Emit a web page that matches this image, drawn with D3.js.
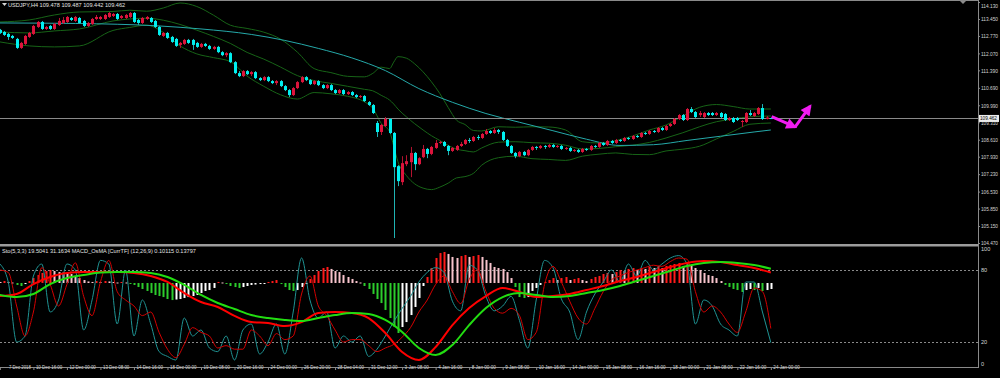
<!DOCTYPE html>
<html>
<head>
<meta charset="utf-8">
<script src="https://cdn.jsdelivr.net/npm/d3@7"></script>
<style>
  html, body { margin: 0; padding: 0; background: #000; overflow: hidden; }
  svg { display: block; }
  text { font-family: "Liberation Sans", Arial, sans-serif; }
</style>
</head>
<body>
<div id="chart"></div>
<script>
// ---- data (USDJPY H4) ----
const firstBar = 2;   // bar index of the first candle below
const opens = [
  113.01,112.93,112.85,112.77,112.65,112.29,112.45,112.73,112.85,113.13,
  113.33,113.05,113.17,113.05,113.21,113.29,113.33,113.49,113.37,113.49,
  113.37,113.17,113.25,113.45,113.45,113.45,113.53,113.57,113.65,113.49,
  113.49,113.53,113.69,113.41,113.29,113.45,113.49,113.37,113.13,112.77,
  112.89,112.73,112.65,112.41,112.45,112.61,112.61,112.49,112.33,112.45,
  112.37,112.25,112.33,112.12,112.00,112.08,111.72,111.28,111.16,111.36,
  111.24,111.32,111.08,111.00,111.12,110.96,110.88,110.96,110.76,110.60,
  110.40,110.68,110.92,111.12,111.00,110.84,110.96,110.80,110.68,110.80,
  110.60,110.48,110.60,110.44,110.52,110.40,110.32,110.36,110.12,110.00,
  109.28,108.92,109.16,109.44,108.88,107.55,106.91,107.63,107.71,108.08,
  107.63,107.91,108.24,108.04,108.28,108.48,108.52,108.36,108.16,108.20,
  108.36,108.44,108.60,108.56,108.72,108.68,108.84,108.96,108.88,109.00,
  108.92,108.60,108.36,108.08,107.95,108.12,107.99,108.20,108.32,108.28,
  108.36,108.32,108.40,108.32,108.36,108.24,108.28,108.16,108.20,108.12,
  108.24,108.20,108.36,108.32,108.48,108.40,108.56,108.48,108.60,108.56,
  108.68,108.64,108.76,108.72,108.88,108.84,108.96,108.92,109.08,109.00,
  109.16,109.24,109.44,109.60,109.40,109.84,109.72,109.60,109.52,109.68,
  109.68,109.60,109.68,109.64,109.40,109.48,109.48,109.32,109.32,109.68,
  109.56,109.64,109.88,109.44,109.478
];
const highs = [
  113.05,112.97,112.89,112.81,112.69,112.53,112.81,112.93,113.21,113.37,
  113.37,113.17,113.21,113.29,113.49,113.53,113.57,113.53,113.57,113.53,
  113.41,113.33,113.49,113.61,113.57,113.65,113.73,113.69,113.69,113.61,
  113.65,113.73,113.73,113.45,113.53,113.57,113.53,113.41,113.17,112.93,
  112.93,112.77,112.69,112.53,112.65,112.65,112.65,112.53,112.49,112.49,
  112.41,112.37,112.37,112.16,112.12,112.12,111.76,111.36,111.40,111.40,
  111.36,111.36,111.12,111.16,111.16,111.00,111.00,111.00,110.80,110.64,
  110.72,110.96,111.16,111.16,111.04,111.00,111.00,110.84,110.84,110.84,
  110.64,110.64,110.64,110.56,110.56,110.44,110.40,110.40,110.16,110.04,
  109.36,109.24,109.52,109.48,108.92,107.59,107.95,107.99,108.32,108.12,
  107.91,108.40,108.28,108.36,108.60,108.56,108.56,108.40,108.32,108.40,
  108.52,108.64,108.68,108.76,108.80,108.88,109.04,109.00,109.08,109.04,
  108.96,108.64,108.40,108.12,108.16,108.16,108.24,108.36,108.36,108.40,
  108.40,108.44,108.44,108.40,108.40,108.32,108.32,108.24,108.24,108.28,
  108.28,108.40,108.40,108.52,108.52,108.60,108.60,108.64,108.64,108.72,
  108.72,108.80,108.80,108.92,108.92,109.00,109.00,109.12,109.12,109.20,
  109.28,109.48,109.64,109.64,109.88,109.92,109.76,109.76,109.72,109.72,
  109.72,109.72,109.72,109.68,109.52,109.52,109.52,109.40,109.72,109.80,
  109.72,109.92,110.04,109.56,109.487
];
const lows = [
  112.85,112.77,112.61,112.65,112.25,112.25,112.41,112.69,112.81,113.09,
  113.01,113.01,113.01,113.01,113.17,113.25,113.29,113.37,113.33,113.25,
  113.13,113.13,113.21,113.41,113.41,113.41,113.49,113.53,113.41,113.45,
  113.45,113.49,113.29,113.21,113.25,113.41,113.29,113.09,112.77,112.73,
  112.65,112.49,112.33,112.29,112.41,112.45,112.21,112.29,112.29,112.33,
  112.21,112.21,112.08,111.96,111.92,111.68,111.24,111.12,111.12,111.20,
  111.16,111.04,110.96,110.96,110.92,110.84,110.80,110.72,110.56,110.32,
  110.36,110.64,110.88,110.96,110.80,110.80,110.76,110.64,110.64,110.56,
  110.44,110.44,110.40,110.40,110.36,110.28,110.28,110.12,109.96,109.64,
  108.72,108.80,109.12,108.84,104.67,106.75,106.79,107.55,107.11,107.39,
  107.59,107.87,107.87,107.99,108.24,108.44,108.32,107.99,108.12,108.16,
  108.32,108.40,108.48,108.52,108.60,108.64,108.80,108.84,108.84,108.84,
  108.56,108.32,108.04,107.87,107.91,107.95,107.95,108.16,108.20,108.24,
  108.24,108.28,108.28,108.28,108.20,108.20,108.12,108.12,108.08,108.08,
  108.16,108.16,108.28,108.28,108.36,108.36,108.44,108.44,108.52,108.52,
  108.60,108.60,108.68,108.68,108.80,108.80,108.88,108.88,108.96,108.96,
  109.12,109.20,109.40,109.36,109.36,109.68,109.48,109.52,109.48,109.56,
  109.56,109.56,109.48,109.36,109.36,109.28,109.36,109.12,109.28,109.56,
  109.52,109.60,109.40,109.42,109.442
];
const closes = [
  112.89,112.81,112.73,112.69,112.29,112.49,112.77,112.89,113.17,113.33,
  113.05,113.13,113.05,113.25,113.37,113.41,113.53,113.41,113.53,113.29,
  113.17,113.29,113.45,113.53,113.53,113.61,113.69,113.65,113.45,113.57,
  113.61,113.69,113.33,113.29,113.49,113.53,113.33,113.13,112.81,112.89,
  112.69,112.53,112.37,112.49,112.61,112.49,112.41,112.33,112.45,112.37,
  112.25,112.33,112.12,112.00,112.08,111.72,111.28,111.16,111.36,111.24,
  111.32,111.08,111.00,111.12,110.96,110.88,110.96,110.76,110.60,110.40,
  110.68,110.92,111.12,111.00,110.84,110.96,110.80,110.68,110.80,110.60,
  110.48,110.60,110.44,110.52,110.40,110.32,110.36,110.16,110.00,109.68,
  108.92,109.20,109.44,108.88,107.51,106.95,107.67,107.75,108.08,107.63,
  107.87,108.24,108.04,108.32,108.48,108.52,108.36,108.16,108.28,108.36,
  108.44,108.60,108.56,108.72,108.68,108.84,108.96,108.88,109.00,108.92,
  108.60,108.36,108.08,107.95,108.12,107.99,108.20,108.32,108.28,108.36,
  108.32,108.40,108.32,108.36,108.24,108.28,108.16,108.20,108.12,108.24,
  108.20,108.36,108.32,108.48,108.40,108.56,108.48,108.60,108.56,108.68,
  108.64,108.76,108.72,108.88,108.84,108.96,108.92,109.08,109.00,109.16,
  109.24,109.44,109.60,109.40,109.84,109.72,109.52,109.68,109.68,109.60,
  109.60,109.68,109.52,109.40,109.48,109.32,109.40,109.36,109.68,109.60,
  109.68,109.88,109.44,109.50,109.462
];

// Bollinger bands (20) and slow moving average, read at these bars
const bandIdx = [2,9,15,21,29,33,37,41,45,49,53,57,61,65,69,73,77,81,85,89,91,93,95,96,97,99,101,103,105,107,109,111,113,115,117,121,125,129,133,137,141,145,149,153,157,161,165,169,173,177,181,186];
const bandUpper = [113.33,113.41,113.61,113.73,113.75,113.80,113.76,113.89,114.09,113.95,113.60,113.20,113.07,112.92,112.64,112.12,111.46,111.30,111.15,111.13,111.27,111.52,111.46,111.72,111.94,111.88,111.65,111.33,110.93,110.46,109.90,109.39,109.22,108.98,108.96,109.13,109.11,109.13,109.12,109.00,108.53,108.48,108.57,108.76,109.00,109.20,109.56,109.91,110.02,109.94,109.84,109.84];
const bandMid = [112.93,112.89,112.97,113.05,113.37,113.45,113.48,113.40,113.23,113.00,112.75,112.47,112.11,111.84,111.52,111.18,110.98,110.87,110.75,110.63,110.57,110.39,110.20,110.04,109.84,109.53,109.25,109.00,108.77,108.58,108.38,108.23,108.17,108.12,108.28,108.51,108.53,108.49,108.47,108.39,108.24,108.26,108.33,108.39,108.50,108.68,108.89,109.13,109.33,109.44,109.53,109.56];
const bandLower = [112.53,112.37,112.33,112.37,112.99,113.11,113.20,112.91,112.37,112.05,111.90,111.74,111.16,110.75,110.41,110.24,110.50,110.45,110.35,110.13,109.87,109.27,108.94,108.35,107.73,107.18,106.84,106.67,106.61,106.71,106.87,107.08,107.13,107.26,107.59,107.89,107.95,107.85,107.82,107.78,107.95,108.03,108.08,108.02,108.01,108.16,108.23,108.35,108.64,108.94,109.23,109.28];
const maIdx = [2,20,40,50,62,70,78,86,94,102,110,118,126,134,142,150,158,166,174,182,186];
const maValues = [113.29,113.27,113.17,113.05,112.83,112.59,112.27,111.89,111.38,110.66,110.11,109.66,109.31,108.97,108.63,108.38,108.41,108.58,108.75,108.92,109.00];

// MACD_OsMA histogram, one value per bar from firstBar
const osma = [
  0.010,0.019,0.010,0.005,-0.019,-0.029,-0.010,0.019,0.048,0.077,
  0.097,0.116,0.126,0.116,0.106,0.102,0.097,0.087,0.068,0.048,
  0.029,0.015,0.010,0.019,0.010,0.019,0.015,0.010,0.005,0.010,
  0.005,-0.005,-0.019,-0.039,-0.058,-0.077,-0.097,-0.116,-0.126,-0.136,
  -0.155,-0.165,-0.160,-0.155,-0.145,-0.136,-0.126,-0.116,-0.097,-0.077,
  -0.068,-0.048,0.010,0.005,-0.010,-0.029,-0.039,-0.048,-0.039,-0.029,
  -0.019,-0.015,-0.010,-0.005,0.010,0.019,0.029,-0.010,-0.039,-0.068,
  -0.077,-0.068,-0.039,-0.005,0.039,0.077,0.116,0.145,0.155,0.136,
  0.116,0.106,0.077,0.058,0.039,0.019,0.005,-0.029,-0.058,-0.106,
  -0.155,-0.194,-0.261,-0.339,-0.426,-0.484,-0.426,-0.378,-0.310,-0.232,
  -0.145,-0.029,0.058,0.145,0.242,0.290,0.300,0.281,0.252,0.242,
  0.261,0.271,0.252,0.261,0.271,0.252,0.223,0.194,0.155,0.145,
  0.136,0.106,0.048,-0.039,-0.136,-0.145,-0.136,-0.077,-0.048,-0.019,
  0.010,0.029,0.048,0.029,0.048,0.058,0.029,0.039,0.048,0.029,
  0.019,0.039,0.058,0.068,0.087,0.097,0.087,0.106,0.126,0.116,
  0.136,0.145,0.126,0.145,0.136,0.155,0.145,0.165,0.145,0.165,
  0.174,0.184,0.194,0.165,0.194,0.174,0.145,0.126,0.097,0.077,
  0.068,0.048,0.019,-0.019,-0.039,-0.058,-0.068,-0.087,-0.068,-0.058,
  -0.068,-0.048,-0.077,-0.068,-0.058
];
// MACD main / signal lines, read every 4th bar from firstBar
const macdMain = [-0.126,-0.106,-0.010,0.058,0.097,0.106,0.106,0.106,0.097,0.068,0.010,-0.097,-0.184,-0.232,-0.319,-0.378,-0.387,-0.416,-0.378,-0.290,-0.281,-0.290,-0.339,-0.484,-0.668,-0.745,-0.620,-0.407,-0.242,-0.126,-0.048,-0.087,-0.136,-0.126,-0.106,-0.068,-0.029,0.019,0.058,0.106,0.155,0.194,0.213,0.203,0.174,0.145,0.101];
const macdSignal = [-0.116,-0.136,-0.106,-0.010,0.048,0.077,0.102,0.106,0.106,0.097,0.058,-0.019,-0.116,-0.194,-0.252,-0.310,-0.339,-0.358,-0.368,-0.339,-0.310,-0.290,-0.300,-0.358,-0.474,-0.629,-0.697,-0.600,-0.407,-0.242,-0.136,-0.097,-0.116,-0.136,-0.126,-0.097,-0.068,-0.029,0.019,0.068,0.116,0.165,0.194,0.203,0.194,0.174,0.138];
// Stochastic (5,3,3) %K and %D, read every 2nd bar from firstBar
const stochK = [85,70,20,25,75,85,45,55,85,80,30,55,88,85,35,80,25,55,35,12,8,5,40,25,30,15,12,25,5,30,35,10,20,35,10,45,90,55,40,45,15,25,20,25,8,14,25,37,48,58,70,78,82,78,54,46,84,80,58,46,50,58,38,15,55,88,82,56,45,22,45,60,70,80,70,85,75,88,80,85,90,92,85,35,55,50,35,30,25,70,70,45,19.5];
const stochD = [80,78,50,25,45,82,68,50,68,86,58,42,70,88,62,55,50,42,45,28,14,7,18,32,28,25,15,17,14,14,30,25,17,27,22,25,60,75,50,42,30,20,22,22,17,12,15,18,24,32,45,55,68,75,62,52,72,80,62,48,44,48,42,22,28,68,83,70,54,40,35,48,62,72,75,78,80,82,84,83,87,90,89,62,45,50,45,35,28,45,65,62,31.2];

const priceTicks = [114.130,113.450,112.770,112.070,111.390,110.690,109.990,109.310,108.610,107.930,107.230,106.530,105.850,105.150,104.470];
const stochTicks = [100, 80, 20, 0];
const stochLevels = [80, 20];
const timeTickIdx = [2,10,18,26,34,42,50,58,66,74,82,90,98,106,114,122,130,138,146,154,162,170,178,186];
const timeLabels = ["7 Dec 2018","10 Dec 16:00","12 Dec 00:00","13 Dec 08:00","14 Dec 16:00","18 Dec 00:00","19 Dec 08:00","20 Dec 16:00","24 Dec 00:00","26 Dec 20:00","28 Dec 04:00","31 Dec 12:00","3 Jan 08:00","4 Jan 16:00","8 Jan 00:00","9 Jan 08:00","10 Jan 16:00","14 Jan 00:00","15 Jan 08:00","16 Jan 16:00","18 Jan 00:00","21 Jan 08:00","22 Jan 16:00","24 Jan 00:00"];
const lastPrice = 109.462;
const arrowPts = [[186.2, 109.54], [191.8, 109.12], [195.4, 109.96]];

// ---- layout ----
const W = 1000, H = 378;
const plotRight = 978;
const mainBottom = 244, subTop = 247, subBottom = 367;

const svg = d3.select("#chart").append("svg")
    .attr("width", W)
    .attr("height", H);
svg.append("rect").attr("width", W).attr("height", H).attr("fill", "#000");

const defs = svg.append("defs");
defs.append("clipPath").attr("id", "clipMain")
  .append("rect").attr("x", 0).attr("y", 1).attr("width", plotRight).attr("height", mainBottom - 1);
defs.append("clipPath").attr("id", "clipSub")
  .append("rect").attr("x", 0).attr("y", subTop).attr("width", plotRight).attr("height", subBottom - subTop);
defs.append("marker").attr("id", "arrowHead")
    .attr("viewBox", "0 0 10 10").attr("refX", 8).attr("refY", 5)
    .attr("markerUnits", "userSpaceOnUse")
    .attr("markerWidth", 13).attr("markerHeight", 11)
    .attr("orient", "auto")
  .append("path").attr("d", "M0,0 L10,5 L0,10 Z").attr("fill", "#f01cf0");

// scales
const x = d3.scaleLinear().domain([0, 186]).range([-8.5, 770.84]);
const y = d3.scaleLinear().domain([104.47, 114.13]).range([243, 2]);
const stochY = d3.scaleLinear().domain([0, 100]).range([366, 246]);
const macdY = d3.scaleLinear().domain([-0.78, 0.3]).range([363.6, 252]);
const px = i => Math.round(x(i)) + 0.5;

const candles = opens.map((o, k) => ({ i: k + firstBar, o, h: highs[k], l: lows[k], c: closes[k] }));

// ---- main window ----
const main = svg.append("g").attr("clip-path", "url(#clipMain)");

const bandLine = vals => d3.line()
    .x((d, k) => x(bandIdx[k]))
    .y(d => y(d))
    .curve(d3.curveMonotoneX)(vals);

[bandUpper, bandMid, bandLower].forEach(vals => {
  main.append("path")
      .attr("d", bandLine(vals))
      .attr("fill", "none")
      .attr("stroke", "#176417")
      .attr("stroke-width", 1);
});

main.append("path")
    .attr("d", d3.line().x((d, k) => x(maIdx[k])).y(d => y(d)).curve(d3.curveMonotoneX)(maValues))
    .attr("fill", "none")
    .attr("stroke", "#25a9a9")
    .attr("stroke-width", 1);

// current price line
main.append("line")
    .attr("x1", 0).attr("x2", plotRight)
    .attr("y1", Math.round(y(lastPrice)) + 0.5).attr("y2", Math.round(y(lastPrice)) + 0.5)
    .attr("stroke", "#8a8a8a")
    .attr("stroke-width", 1);

// wicks
main.append("g").selectAll("line")
  .data(candles)
  .join("line")
    .attr("x1", d => px(d.i)).attr("x2", d => px(d.i))
    .attr("y1", d => y(d.h)).attr("y2", d => y(d.l))
    .attr("stroke", d => d.c >= d.o ? "#b3122f" : "#1fb3b3")
    .attr("stroke-width", 1);

// bodies
main.append("g").selectAll("rect")
  .data(candles)
  .join("rect")
    .attr("x", d => Math.round(x(d.i)) - 1)
    .attr("width", 3)
    .attr("y", d => y(Math.max(d.o, d.c)))
    .attr("height", d => Math.max(1, Math.abs(y(d.o) - y(d.c))))
    .attr("fill", d => d.c >= d.o ? "#dc143c" : "#00f0f0");

// magenta hand-drawn arrows
const arrowLine = d3.line().x(d => x(d[0])).y(d => y(d[1]));
main.append("path")
    .attr("d", arrowLine([arrowPts[0], arrowPts[1]]))
    .attr("stroke", "#f01cf0").attr("stroke-width", 3).attr("fill", "none")
    .attr("marker-end", "url(#arrowHead)");
main.append("path")
    .attr("d", arrowLine([arrowPts[1], arrowPts[2]]))
    .attr("stroke", "#f01cf0").attr("stroke-width", 3).attr("fill", "none")
    .attr("marker-end", "url(#arrowHead)");

// ---- sub window ----
const sub = svg.append("g").attr("clip-path", "url(#clipSub)");

sub.append("g").selectAll("line")
  .data(stochLevels)
  .join("line")
    .attr("x1", 0).attr("x2", plotRight)
    .attr("y1", d => Math.round(stochY(d)) + 0.5).attr("y2", d => Math.round(stochY(d)) + 0.5)
    .attr("stroke", "#8a8a8a")
    .attr("stroke-dasharray", "2,2");

const histColor = (v, k) => {
  const prev = k > 0 ? osma[k - 1] : v;
  if (v >= 0) return v > prev ? "#ff1a1a" : "#f7c3cc";
  return v < prev ? "#2ccc2c" : "#ffffff";
};
sub.append("g").selectAll("rect")
  .data(osma)
  .join("rect")
    .attr("x", (d, k) => Math.round(x(k + firstBar)) - 0.5)
    .attr("width", 2)
    .attr("y", d => Math.min(macdY(0), macdY(d)))
    .attr("height", d => Math.max(1, Math.abs(macdY(d) - macdY(0))))
    .attr("fill", histColor);

const stochLine = d3.line()
    .x((d, k) => x(firstBar + 2 * k))
    .y(d => stochY(d))
    .curve(d3.curveMonotoneX);
sub.append("path").attr("d", stochLine(stochK))
    .attr("fill", "none").attr("stroke", "#1f9393").attr("stroke-width", 1);
sub.append("path").attr("d", stochLine(stochD))
    .attr("fill", "none").attr("stroke", "#d40000").attr("stroke-width", 1);

const macdLine = d3.line()
    .x((d, k) => x(firstBar + 4 * k))
    .y(d => macdY(d))
    .curve(d3.curveMonotoneX);
sub.append("path").attr("d", macdLine(macdMain))
    .attr("fill", "none").attr("stroke", "#ff0000").attr("stroke-width", 2);
sub.append("path").attr("d", macdLine(macdSignal))
    .attr("fill", "none").attr("stroke", "#22dd11").attr("stroke-width", 2);

// ---- frame ----
const frame = svg.append("g");
frame.append("line").attr("x1", 0).attr("x2", plotRight).attr("y1", 0.5).attr("y2", 0.5)
    .attr("stroke", "#8a8a8a");
frame.append("rect").attr("x", 0).attr("y", mainBottom).attr("width", plotRight).attr("height", 2.5)
    .attr("fill", "#9c9c9c");
frame.append("line").attr("x1", 0).attr("x2", plotRight).attr("y1", subBottom + 0.5).attr("y2", subBottom + 0.5)
    .attr("stroke", "#8a8a8a");
frame.append("line").attr("x1", plotRight + 0.5).attr("x2", plotRight + 0.5).attr("y1", 0).attr("y2", subBottom + 1)
    .attr("stroke", "#8a8a8a");
frame.append("path").attr("d", "M960,1 L966,1 L963,4 Z").attr("fill", "#8a8a8a");

// price axis
const priceAxis = d3.axisRight(y)
    .tickValues(priceTicks)
    .tickSize(2)
    .tickPadding(1)
    .tickFormat(d3.format(".3f"));
const pa = svg.append("g").attr("transform", `translate(${plotRight},0)`).call(priceAxis);
pa.select(".domain").remove();
pa.selectAll("line").attr("stroke", "#8a8a8a");
pa.selectAll("text")
    .attr("fill", "#d4d4d4")
    .style("font-size", "5.6px")
    .attr("textLength", 17)
    .attr("lengthAdjust", "spacingAndGlyphs");
pa.select(".tick text").attr("dy", "0.9em");

// current price box
const lpY = y(lastPrice);
svg.append("rect").attr("x", plotRight + 1).attr("y", lpY - 3.5).attr("width", 20).attr("height", 7)
    .attr("fill", "#ececec");
svg.append("text").attr("x", plotRight + 2).attr("y", lpY + 2)
    .attr("fill", "#000").style("font-size", "5.6px")
    .attr("textLength", 17).attr("lengthAdjust", "spacingAndGlyphs")
    .text(lastPrice.toFixed(3));

// stochastic axis
const stochAxis = d3.axisRight(stochY)
    .tickValues(stochTicks)
    .tickSize(0)
    .tickPadding(3);
const sa = svg.append("g").attr("transform", `translate(${plotRight},0)`).call(stochAxis);
sa.select(".domain").remove();
sa.selectAll(".tick").attr("transform", d => `translate(0,${Math.min(364, Math.max(249.5, stochY(d)))})`);
sa.selectAll("text").attr("fill", "#d4d4d4").style("font-size", "5.6px");

// time axis
const timeAxis = d3.axisBottom(x)
    .tickValues(timeTickIdx)
    .tickSize(3)
    .tickFormat((d, k) => timeLabels[k]);
const ta = svg.append("g").attr("transform", `translate(0,${subBottom})`).call(timeAxis);
ta.select(".domain").remove();
ta.selectAll("line").attr("stroke", "#8a8a8a");
ta.selectAll("text")
    .attr("fill", "#d4d4d4")
    .style("font-size", "5.6px")
    .attr("text-anchor", "start")
    .attr("dx", 2).attr("dy", -0.5).attr("y", 2)
    .attr("textLength", (d, k) => timeLabels[k].length * 2.2)
    .attr("lengthAdjust", "spacingAndGlyphs");
ta.select(".tick text").attr("dx", 8.5);

// labels
svg.append("path").attr("d", "M2,3 L7,3 L4.5,6 Z").attr("fill", "#d4d4d4");
svg.append("text").attr("x", 8).attr("y", 7)
    .attr("fill", "#e2e2e2").style("font-size", "5.6px")
    .text("USDJPY,H4  109.478 109.487 109.442 109.462");
svg.append("text").attr("x", 2).attr("y", 253)
    .attr("fill", "#e2e2e2").style("font-size", "5.6px")
    .text("Sto(5,3,3) 19.5041 31.1634   MACD_OsMA [CurrTF] (12,26,9) 0.10115 0.13797");
</script>
</body>
</html>
